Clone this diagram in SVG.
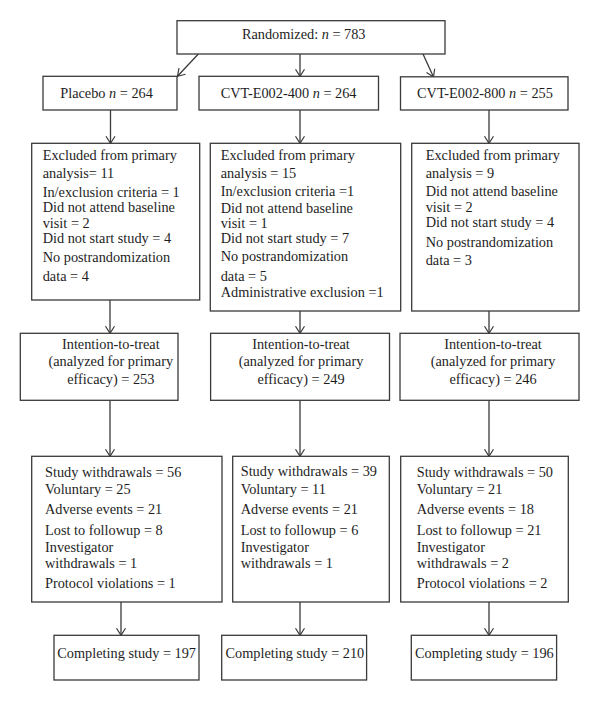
<svg xmlns="http://www.w3.org/2000/svg" width="600" height="701" viewBox="0 0 600 701">
<style>
.box{fill:#fff;stroke:#3a3a3a;stroke-width:1.3}
text{font-family:"Liberation Serif","Times New Roman",serif;font-size:14.3px;fill:#1e1e1e}
.c{text-anchor:middle}
.i{font-style:italic}
.ln{stroke:#3a3a3a;stroke-width:1.3;fill:none;marker-end:url(#ah)}
</style>
<defs>
<marker id="ah" viewBox="-9 -6 10 12" refX="0" refY="0" markerWidth="10" markerHeight="12" markerUnits="userSpaceOnUse" orient="auto">
<path d="M-7,-4.5 L0,0 L-7,4.5" fill="none" stroke="#3a3a3a" stroke-width="1.2"/>
</marker>
</defs>
<rect width="600" height="701" fill="#fff"/>
<g id="connectors">
<line class="ln" x1="198.3" y1="54" x2="177.5" y2="76.3"/>
<line class="ln" x1="300" y1="54" x2="300" y2="76.3"/>
<line class="ln" x1="423" y1="54" x2="433.5" y2="77"/>
<line class="ln" x1="110.5" y1="110" x2="110.5" y2="143.3"/>
<line class="ln" x1="300" y1="110" x2="300" y2="143.3"/>
<line class="ln" x1="489" y1="110" x2="489" y2="143.3"/>
<line class="ln" x1="110" y1="300" x2="110" y2="333.3"/>
<line class="ln" x1="300" y1="311" x2="300" y2="333.3"/>
<line class="ln" x1="489" y1="311" x2="489" y2="333.3"/>
<line class="ln" x1="110" y1="400.3" x2="110" y2="456.3"/>
<line class="ln" x1="300" y1="400.3" x2="300" y2="456.3"/>
<line class="ln" x1="489" y1="400.3" x2="489" y2="456.3"/>
<line class="ln" x1="121" y1="602" x2="121" y2="635.3"/>
<line class="ln" x1="300" y1="602" x2="300" y2="635.3"/>
<line class="ln" x1="489" y1="602" x2="489" y2="635.3"/>
</g>
<g id="randomized">
<rect class="box" x="177" y="20.7" width="268" height="33.3"/>
<text class="c" x="303.7" y="39.3">Randomized: <tspan class="i">n</tspan> = 783</text>
</g>
<g id="placebo">
<rect class="box" x="43" y="76.3" width="134" height="33.7"/>
<text class="c" x="106.6" y="98.3">Placebo <tspan class="i">n</tspan> = 264</text>
</g>
<g id="cvt400">
<rect class="box" x="199" y="76.3" width="179.5" height="33.7"/>
<text class="c" x="288.6" y="98.3">CVT-E002-400 <tspan class="i">n</tspan> = 264</text>
</g>
<g id="cvt800">
<rect class="box" x="400.5" y="76.8" width="167.5" height="33.2"/>
<text class="c" x="485" y="98.3">CVT-E002-800 <tspan class="i">n</tspan> = 255</text>
</g>
<g id="excluded-placebo">
<rect class="box" x="31.7" y="143.3" width="168" height="156.7"/>
<text x="42.7" y="160"><tspan x="42.7">Excluded from primary</tspan><tspan x="42.7" y="178">analysis= 11</tspan><tspan x="42.7" y="196.5">In/exclusion criteria = 1</tspan><tspan x="42.7" y="212.3">Did not attend baseline</tspan><tspan x="42.7" y="227.8">visit = 2</tspan><tspan x="42.7" y="243.3">Did not start study = 4</tspan><tspan x="42.7" y="261.5">No postrandomization</tspan><tspan x="42.7" y="280.7">data = 4</tspan></text>
</g>
<g id="excluded-400">
<rect class="box" x="210.3" y="143.3" width="190.4" height="167.7"/>
<text x="220.7" y="159.5"><tspan x="220.7">Excluded from primary</tspan><tspan x="220.7" y="177.7">analysis = 15</tspan><tspan x="220.7" y="196">In/exclusion criteria =1</tspan><tspan x="220.7" y="212.5">Did not attend baseline</tspan><tspan x="220.7" y="228">visit = 1</tspan><tspan x="220.7" y="243">Did not start study = 7</tspan><tspan x="220.7" y="261">No postrandomization</tspan><tspan x="220.7" y="280.7">data = 5</tspan><tspan x="220.7" y="296.7">Administrative exclusion =1</tspan></text>
</g>
<g id="excluded-800">
<rect class="box" x="411.7" y="143.3" width="167.3" height="167.7"/>
<text x="425.7" y="159.5"><tspan x="425.7">Excluded from primary</tspan><tspan x="425.7" y="177.7">analysis = 9</tspan><tspan x="425.7" y="196">Did not attend baseline</tspan><tspan x="425.7" y="212">visit = 2</tspan><tspan x="425.7" y="227.3">Did not start study = 4</tspan><tspan x="425.7" y="246.7">No postrandomization</tspan><tspan x="425.7" y="265">data = 3</tspan></text>
</g>
<g id="itt-placebo">
<rect class="box" x="20.3" y="333.3" width="157.7" height="67"/>
<text class="c" x="110.8" y="349.3"><tspan x="110.8">Intention-to-treat</tspan><tspan x="110.8" y="366">(analyzed for primary</tspan><tspan x="110.8" y="384.3">efficacy) = 253</tspan></text>
</g>
<g id="itt-400">
<rect class="box" x="210.6" y="333.3" width="178.9" height="67"/>
<text class="c" x="301" y="349.3"><tspan x="301">Intention-to-treat</tspan><tspan x="301" y="366">(analyzed for primary</tspan><tspan x="301" y="384.3">efficacy) = 249</tspan></text>
</g>
<g id="itt-800">
<rect class="box" x="400" y="333.3" width="179" height="67"/>
<text class="c" x="493" y="349.3"><tspan x="493">Intention-to-treat</tspan><tspan x="493" y="366">(analyzed for primary</tspan><tspan x="493" y="384.3">efficacy) = 246</tspan></text>
</g>
<g id="withdrawals-placebo">
<rect class="box" x="31.7" y="456.3" width="190.3" height="145.7"/>
<text x="45" y="476.6"><tspan x="45">Study withdrawals = 56</tspan><tspan x="45" y="494">Voluntary = 25</tspan><tspan x="45" y="514.2">Adverse events = 21</tspan><tspan x="45" y="534.8">Lost to followup = 8</tspan><tspan x="45" y="551.7">Investigator</tspan><tspan x="45" y="567.7">withdrawals = 1</tspan><tspan x="45" y="588.3">Protocol violations = 1</tspan></text>
</g>
<g id="withdrawals-400">
<rect class="box" x="232.7" y="456.3" width="156.6" height="145.7"/>
<text x="240.7" y="476.3"><tspan x="240.7">Study withdrawals = 39</tspan><tspan x="240.7" y="494">Voluntary = 11</tspan><tspan x="240.7" y="514.1">Adverse events = 21</tspan><tspan x="240.7" y="534.5">Lost to followup = 6</tspan><tspan x="240.7" y="551.7">Investigator</tspan><tspan x="240.7" y="567.9">withdrawals = 1</tspan></text>
</g>
<g id="withdrawals-800">
<rect class="box" x="400.7" y="456.3" width="167.6" height="145.7"/>
<text x="416.7" y="476.6"><tspan x="416.7">Study withdrawals = 50</tspan><tspan x="416.7" y="494">Voluntary = 21</tspan><tspan x="416.7" y="514.2">Adverse events = 18</tspan><tspan x="416.7" y="534.8">Lost to followup = 21</tspan><tspan x="416.7" y="551.7">Investigator</tspan><tspan x="416.7" y="567.7">withdrawals = 2</tspan><tspan x="416.7" y="588.3">Protocol violations = 2</tspan></text>
</g>
<g id="completing-placebo">
<rect class="box" x="54" y="635.3" width="145" height="44.7"/>
<text x="57.3" y="658.3">Completing study = 197</text>
</g>
<g id="completing-400">
<rect class="box" x="221.7" y="635.3" width="144.9" height="44.7"/>
<text x="225.5" y="658.3">Completing study = 210</text>
</g>
<g id="completing-800">
<rect class="box" x="411.3" y="635.3" width="145.3" height="44.7"/>
<text x="415" y="658.3">Completing study = 196</text>
</g>
</svg>
